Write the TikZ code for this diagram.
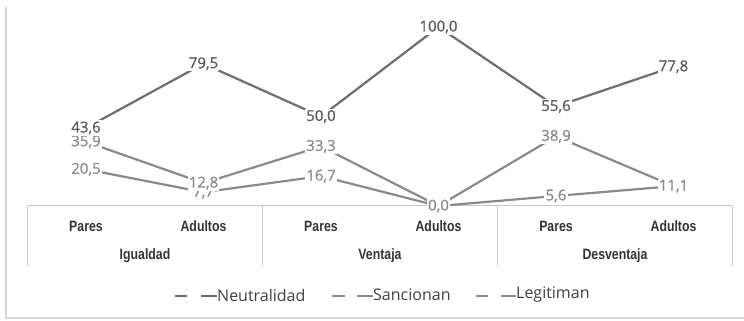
\documentclass[tikz,border=0pt]{standalone}
\usepackage{fontspec}
\setmainfont{Open Sans}
\newfontfamily\catfont[FakeStretch=0.82]{Liberation Sans}
\newfontfamily\valfont[FakeBold=0.6]{Open Sans}
\usepackage{xcolor}
\definecolor{neutral}{HTML}{6E6E6E}
\definecolor{neutraltext}{HTML}{5A5A5A}
\definecolor{sanc}{HTML}{8A8A8A}
\definecolor{legit}{HTML}{8A8A8A}
\definecolor{frame}{HTML}{D6D6D6}
\definecolor{axisline}{HTML}{C8C8C8}

\tikzset{
  serie/.style={line width=2.2pt, line cap=round},
  valor/.style={fill=white, inner sep=1.2pt, font=\valfont\fontsize{15}{17}\selectfont},
  categ/.style={font=\catfont\bfseries\fontsize{15}{17}\selectfont, text=black!80, inner sep=0pt},
  leyenda/.style={font=\fontsize{16}{18}\selectfont, text=black!75, inner sep=0pt, anchor=west}
}

\begin{document}
\begin{tikzpicture}[x=1pt,y=-1pt]
\useasboundingbox (0,0) rectangle (744,321);
\def\ycero{206}
\def\esc{1.79}

% outer frame of the chart
\draw[frame, line width=1.2pt] (6,7) -- (6,318) -- (744,318);

% category box
\draw[axisline, line width=1pt] (27,205) -- (732,205);
\draw[axisline, line width=1pt] (27,205) -- (27,266);
\draw[axisline, line width=1pt] (262,205) -- (262,266);
\draw[axisline, line width=1pt] (497,205) -- (497,266);
\draw[axisline, line width=1pt] (732,205) -- (732,266);

% data points
\coordinate (n1) at (86,{\ycero-\esc*43.6});
\coordinate (n2) at (203.5,{\ycero-\esc*79.5});
\coordinate (n3) at (321,{\ycero-\esc*50.0});
\coordinate (n4) at (438.5,{\ycero-\esc*100.0});
\coordinate (n5) at (556,{\ycero-\esc*55.6});
\coordinate (n6) at (673.5,{\ycero-\esc*77.8});

\coordinate (s1) at (86,{\ycero-\esc*35.9});
\coordinate (s2) at (203.5,{\ycero-\esc*12.8});
\coordinate (s3) at (321,{\ycero-\esc*33.3});
\coordinate (s4) at (438.5,{\ycero-\esc*0.0});
\coordinate (s5) at (556,{\ycero-\esc*38.9});
\coordinate (s6) at (673.5,{\ycero-\esc*11.1});

\coordinate (l1) at (86,{\ycero-\esc*20.5});
\coordinate (l2) at (203.5,{\ycero-\esc*7.7});
\coordinate (l3) at (321,{\ycero-\esc*16.7});
\coordinate (l4) at (438.5,{\ycero-\esc*0.0});
\coordinate (l5) at (556,{\ycero-\esc*5.6});
\coordinate (l6) at (673.5,{\ycero-\esc*11.1});

% lines
\draw[serie, neutral] (n1) -- (n2) -- (n3) -- (n4) -- (n5) -- (n6);
\draw[serie, sanc] (s1) -- (s2) -- (s3) -- (s4) -- (s5) -- (s6);
\draw[serie, legit] (l1) -- (l2) -- (l3) -- (l4) -- (l5) -- (l6);

% labels
\node[valor, text=sanc] (tl1) at (l1) {20,5};
\node[valor, text=sanc] (tl2) at (l2) {7,7};
\node[valor, text=sanc] (tl3) at (l3) {16,7};
\node[valor, text=sanc] (tl4) at (l4) {0,0};
\node[valor, text=sanc] (tl5) at (l5) {5,6};
\node[valor, text=sanc] (tl6) at (l6) {11,1};

\node[valor, text=sanc] (ts1) at (s1) {35,9};
\node[valor, text=sanc] (ts2) at (s2) {12,8};
\node[valor, text=sanc] (ts3) at (s3) {33,3};
\node[valor, text=sanc] (ts4) at (s4) {0,0};
\node[valor, text=sanc] (ts5) at (s5) {38,9};
\node[valor, text=sanc] (ts6) at (s6) {11,1};

\node[valor, text=neutraltext] (tn1) at (n1) {43,6};
\node[valor, text=neutraltext] (tn2) at (n2) {79,5};
\node[valor, text=neutraltext] (tn3) at (n3) {50,0};
\node[valor, text=neutraltext] (tn4) at (n4) {100,0};
\node[valor, text=neutraltext] (tn5) at (n5) {55,6};
\node[valor, text=neutraltext] (tn6) at (n6) {77,8};

% categories
\node[categ] (c1) at (86,226) {Pares};
\node[categ] (c2) at (203.5,226) {Adultos};
\node[categ] (c3) at (321,226) {Pares};
\node[categ] (c4) at (438.5,226) {Adultos};
\node[categ] (c5) at (556,226) {Pares};
\node[categ] (c6) at (673.5,226) {Adultos};
\node[categ] (g1) at (145,256) {Igualdad};
\node[categ] (g2) at (380,256) {Ventaja};
\node[categ] (g3) at (615,256) {Desventaja};

% legend
\draw[serie, neutral, line cap=butt] (175,296) -- (187,296);
\draw[serie, neutral, line cap=butt] (201,296) -- (217,296);
\node[leyenda] (ln) at (217,295) {Neutralidad};
\draw[serie, sanc, line cap=butt] (332,296) -- (345,296);
\draw[serie, sanc, line cap=butt] (357,296) -- (373,296);
\node[leyenda] (ls) at (373,295) {Sancionan};
\draw[serie, legit, line cap=butt] (476,296) -- (488,296);
\draw[serie, legit, line cap=butt] (501,296) -- (516,296);
\node[leyenda] (ll) at (516,295) {Legitiman};

\end{tikzpicture}
\end{document}
